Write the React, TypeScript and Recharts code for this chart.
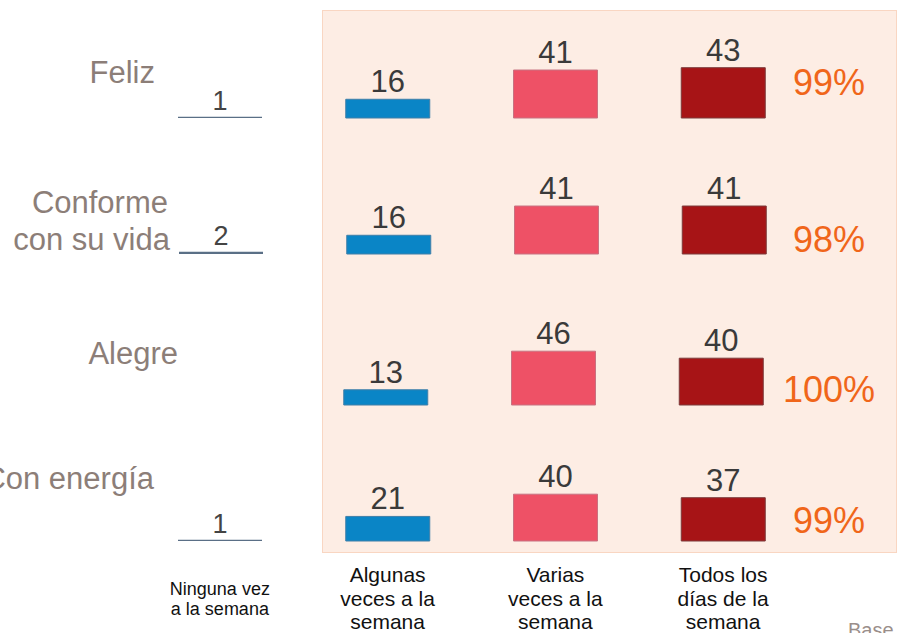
import React from "react";
import { BarChart, Bar, XAxis, YAxis, Cell, LabelList } from "recharts";

// ---- data ----
const categories = [
  "Ninguna vez a la semana",
  "Algunas veces a la semana",
  "Varias veces a la semana",
  "Todos los días de la semana",
];
const categoryLines = [
  ["Ninguna vez", "a la semana"],
  ["Algunas", "veces a la", "semana"],
  ["Varias", "veces a la", "semana"],
  ["Todos los", "días de la", "semana"],
];
const rowLabels = [["Feliz"], ["Conforme", "con su vida"], ["Alegre"], ["Con energía"]];
const felizValues = [1, 16, 41, 43];
const conformeValues = [2, 16, 41, 41];
const alegreValues = [null, 13, 46, 40];
const energiaValues = [1, 21, 40, 37];
const totals = ["99%", "98%", "100%", "99%"];
const footnote = "Base";

const rowValues = [felizValues, conformeValues, alegreValues, energiaValues];

// ---- styles / layout ----
const FONT = "'Liberation Sans', Arial, Helvetica, sans-serif";
const barColors = ["#5a6f86", "#0a85c6", "#ee5166", "#a71416"];
const barStrokes = ["none", "#3f7fa8", "#c77281", "#7c3a3a"];
const ROW_BASELINES = [118, 254, 405, 541];
const ROW_SHIFT = [0, 1, -2, 0];
const PLOT_H = 117;
const PAD_B = 18;
const AXIS_H = 100;
const ROW_LABEL_POS = [
  [{ x: 155, y: 83 }],
  [{ x: 168, y: 213 }, { x: 170, y: 250 }],
  [{ x: 178, y: 364 }],
  [{ x: 154, y: 489 }],
];
const PCT_POS = [
  { x: 793, y: 95 },
  { x: 793, y: 252 },
  { x: 783, y: 402 },
  { x: 793, y: 533 },
];

const makeLabel = (fontSize: number, fill: string) => (props: any) => {
  const { x, y, width, value } = props;
  if (value === null || value === undefined) return null;
  return (
    <text
      x={Number(x) + Number(width) / 2}
      y={Number(y) - 7}
      textAnchor="middle"
      fontFamily={FONT}
      fontSize={fontSize}
      fill={fill}
    >
      {value}
    </text>
  );
};
const NoneLabel = makeLabel(27, "#444444");
const MainLabel = makeLabel(31, "#3a3a3a");

const CategoryTick = (props: any) => {
  const { x, y, index } = props;
  const lines = categoryLines[index] || [];
  const small = index === 0;
  const offsets = small ? [54, 74] : [41, 64.5, 88];
  return (
    <g>
      {lines.map((ln, i) => (
        <text
          key={i}
          x={x}
          y={y + offsets[i]}
          textAnchor="middle"
          fontFamily={FONT}
          fontSize={small ? 18 : 21}
          fill="#111111"
        >
          {ln}
        </text>
      ))}
    </g>
  );
};

export default function App() {
  return (
    <div
      style={{
        position: "absolute",
        left: 0,
        top: 0,
        width: 899,
        height: 633,
        overflow: "hidden",
        background: "#ffffff",
        fontFamily: FONT,
      }}
    >
      <div
        style={{
          position: "absolute",
          left: 322,
          top: 10,
          width: 575,
          height: 543,
          boxSizing: "border-box",
          background: "#fdede4",
          border: "1.5px solid #f9d6c2",
        }}
      />
      {rowValues.map((vals, r) => {
        const isLast = r === rowValues.length - 1;
        const top = ROW_BASELINES[r] - PLOT_H;
        const left = ROW_SHIFT[r];
        const data = categories.map((c, i) => ({
          cat: c,
          none: i === 0 ? vals[i] : null,
          v: i === 0 ? null : vals[i],
        }));
        return (
          <div key={r} style={{ position: "absolute", left, top }}>
            <BarChart
              width={899}
              height={isLast ? PLOT_H + AXIS_H : PLOT_H + PAD_B}
              data={data}
              margin={{ top: 0, right: 92, left: 136, bottom: isLast ? 0 : PAD_B }}
              barSize={84}
            >
              <XAxis
                dataKey="cat"
                hide={!isLast}
                axisLine={false}
                tickLine={false}
                tickSize={0}
                tickMargin={0}
                interval={0}
                height={AXIS_H}
                tick={<CategoryTick />}
              />
              <YAxis hide domain={[0, 100]} />
              <Bar dataKey="none" stackId="s" fill={barColors[0]} isAnimationActive={false}>
                <LabelList dataKey="none" content={NoneLabel} />
              </Bar>
              <Bar dataKey="v" stackId="s" isAnimationActive={false}>
                {data.map((d, i) => (
                  <Cell key={i} fill={barColors[i]} stroke={barStrokes[i]} strokeWidth={1} />
                ))}
                <LabelList dataKey="v" content={MainLabel} />
              </Bar>
              {rowLabels[r].map((t, i) => (
                <text
                  key={"rl" + i}
                  x={ROW_LABEL_POS[r][i].x - left}
                  y={ROW_LABEL_POS[r][i].y - top}
                  textAnchor="end"
                  fontFamily={FONT}
                  fontSize={31}
                  fill="#8c7e78"
                >
                  {t}
                </text>
              ))}
              <text
                x={PCT_POS[r].x - left}
                y={PCT_POS[r].y - top}
                textAnchor="start"
                fontFamily={FONT}
                fontSize={36}
                fill="#f0661a"
              >
                {totals[r]}
              </text>
              {isLast ? (
                <text
                  x={848 - left}
                  y={637 - top}
                  textAnchor="start"
                  fontFamily={FONT}
                  fontSize={20}
                  fill="#9a8e8a"
                >
                  {footnote}
                </text>
              ) : null}
            </BarChart>
          </div>
        );
      })}
    </div>
  );
}
